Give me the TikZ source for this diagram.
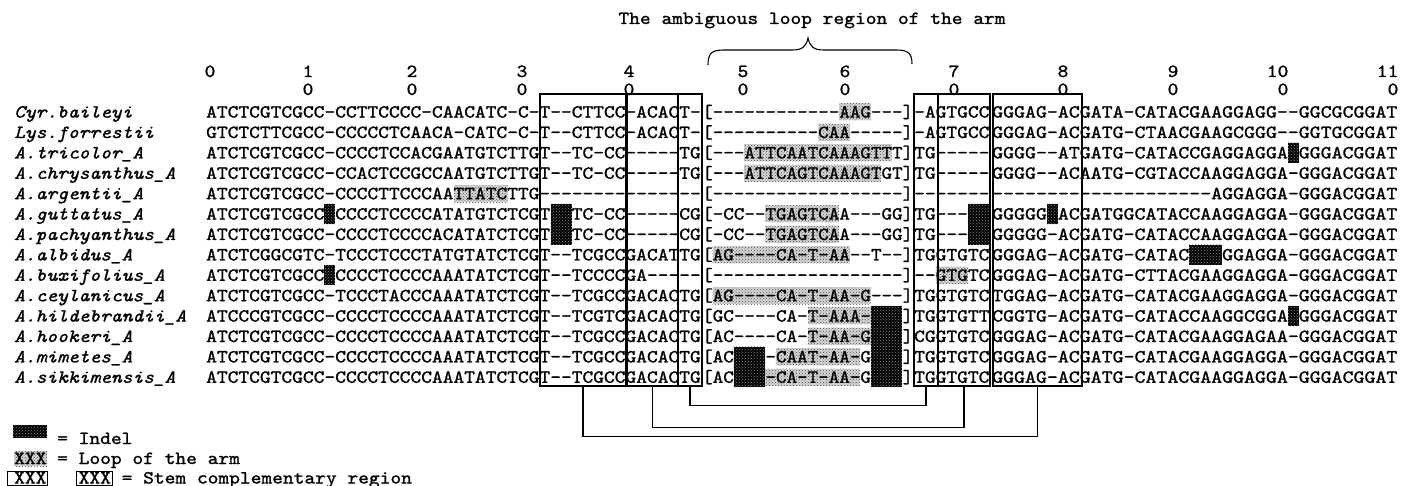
\documentclass[tikz,border=0pt]{standalone}
\usepackage{fontspec}
\usepackage{graphicx}
\usetikzlibrary{patterns}
\newfontfamily\sqf{lmmono10-regular.otf}[FakeStretch=1.107, FakeBold=1.2, ItalicFont=lmmono10-italic.otf]
\tikzset{
  sq/.style={anchor=base west, inner sep=0pt, font=\sqf\fontsize{18.5}{18.5}\selectfont},
  nm/.style={sq, font=\sqf\itshape\fontsize{18.5}{18.5}\selectfont},
  lab/.style={anchor=base, inner sep=0pt, font=\sqf\fontsize{18.5}{18.5}\selectfont},
  stembox/.style={draw, line width=1.1pt, inner sep=0pt, minimum height=292pt},
  conn/.style={line width=1.1pt},
  indelfill/.style={fill=black, postaction={pattern=crosshatch dots, pattern color=black!45}},
  stipfill/.style={fill=black!16, postaction={pattern=crosshatch dots, pattern color=black!70}},
}
\def\xA{206}\def\wA{10.77}
\def\xL{702}\def\wL{10.55}
\def\xB{914}\def\wB{10.75}
\def\xC{992}\def\wC{10.95}
\newcommand\mkrow[6]{%
  \pgfmathsetmacro\yb{117.6+20.4*(#1-1)}%
  \node[nm] (n#1) at (14,\yb) {#2};
  \node[sq] (ga#1) at (\xA,\yb) {#3};
  \node[sq] (gl#1) at (\xL,\yb) {\scalebox{0.9812}[1]{#4}};
  \node[sq] (gb#1) at (\xB,\yb) {#5};
  \node[sq] (gc#1) at (\xC,\yb) {\scalebox{1.0185}[1]{#6}};
}
\newcommand\mkindel[5]{%
  \pgfmathsetmacro\ya{112+20.4*(#3-1)-10.2}%
  \pgfmathsetmacro\yc{112+20.4*(#3-1)+10.2}%
  \fill[indelfill] ({#1+#4*#2},\ya) rectangle ({#1+(#4+#5)*#2},\yc);}
\newcommand\mkstip[5]{%
  \pgfmathsetmacro\ya{112+20.4*(#3-1)-8.5}%
  \pgfmathsetmacro\yc{112+20.4*(#3-1)+8.5}%
  \fill[stipfill] ({#1+#4*#2},\ya) rectangle ({#1+(#4+#5)*#2},\yc);}
\begin{document}
\begin{tikzpicture}[x=1pt,y=-1pt]
\fill[white] (0,0) rectangle (1403,486);
\useasboundingbox (0,0) rectangle (1403,486);
% title and brace
\node[lab] (title) at (812,24) {The ambiguous loop region of the arm};
\draw[line width=1.1pt] (708,65) .. controls (708,53) and (712,50) .. (724,50) -- (792,50)
  .. controls (802,50) and (806,47) .. (808,38) .. controls (810,47) and (814,50) .. (824,50)
  -- (896,50) .. controls (908,50) and (912,53) .. (912,64);
% column numbers
\node[lab] (c0) at (210,77) {0};
\foreach \x/\t [count=\k] in {308/1,412/2,522/3,629/4,743/5,845/6,954/7,1063/8,1173/9}{
  \node[lab] (t\k) at (\x,77) {\t};
  \node[lab] (u\k) at (\x,95) {0};
}
\node[lab] (t10) at (1277.6,77) {10};
\node[lab] (u10) at (1283,95) {0};
\node[lab] (t11) at (1387.6,77) {11};
\node[lab] (u11) at (1393,95) {0};
% loop-of-arm stipples
\mkstip{\xL}{\wL}{1}{13}{3}
\mkstip{\xL}{\wL}{2}{11}{3}
\mkstip{\xL}{\wL}{3}{4}{14}
\mkstip{\xL}{\wL}{4}{4}{13}
\mkstip{\xA}{\wA}{5}{23}{5}
\mkstip{\xL}{\wL}{6}{6}{7}
\mkstip{\xL}{\wL}{7}{6}{7}
\mkstip{\xL}{\wL}{8}{1}{13}
\mkstip{\xB}{\wB}{9}{2}{3}
\mkstip{\xL}{\wL}{10}{1}{15}
\mkstip{\xL}{\wL}{11}{10}{6}
\mkstip{\xL}{\wL}{12}{10}{6}
\mkstip{\xL}{\wL}{13}{7}{8}
\mkstip{\xL}{\wL}{14}{6}{9}
% sequences
\mkrow{1}{Cyr.baileyi}{ATCTCGTCGCC-CCTTCCCC-CAACATC-C-T--CTTCC-ACACT-}{[------------AAG---]}{-AGTGCC}{GGGAG-ACGATA-CATACGAAGGAGG--GGCGCGGAT}
\mkrow{2}{Lys.forrestii}{GTCTCTTCGCC-CCCCCTCAACA-CATC-C-T--CTTCC-ACACT-}{[----------CAA-----]}{-AGTGCC}{GGGAG-ACGATG-CTAACGAAGCGGG--GGTGCGGAT}
\mkrow{3}{A.tricolor\_A}{ATCTCGTCGCC-CCCCTCCACGAATGTCTTGT--TC-CC-----TG}{[---ATTCAATCAAAGTTT]}{TG-----}{GGGG--ATGATG-CATACCGAGGAGGA-GGGACGGAT}
\mkrow{4}{A.chrysanthus\_A}{ATCTCGTCGCC-CCACTCCGCCAATGTCTTGT--TC-CC-----TG}{[---ATTCAGTCAAAGTGT]}{TG-----}{GGGG--ACAATG-CGTACCAAGGAGGA-GGGACGGAT}
\mkrow{5}{A.argentii\_A}{ATCTCGTCGCC-CCCCTTCCCAATTATCTTG---------------}{[------------------]}{-------}{--------------------AGGAGGA-GGGACGGAT}
\mkrow{6}{A.guttatus\_A}{ATCTCGTCGCC-CCCCTCCCCATATGTCTCGT--TC-CC-----CG}{[-CC--TGAGTCAA---GG]}{TG-----}{GGGGG-ACGATGGCATACCAAGGAGGA-GGGACGGAT}
\mkrow{7}{A.pachyanthus\_A}{ATCTCGTCGCC-CCCCTCCCCACATATCTCGT--TC-CC-----CG}{[-CC--TGAGTCAA---GG]}{TG-----}{GGGGG-ACGATG-CATACCAAGGAGGA-GGGACGGAT}
\mkrow{8}{A.albidus\_A}{ATCTCGGCGTC-TCCCTCCCTATGTATCTCGT--TCGCCGACATTG}{[AG----CA-T-AA--T--]}{TGGTGTC}{GGGAG-ACGATG-CATAC---GGAGGA-GGGACGGAT}
\mkrow{9}{A.buxifolius\_A}{ATCTCGTCGCC-CCCCTCCCCAAATATCTCGT--TCCCCGA-----}{[------------------]}{--GTGTC}{GGGAG-ACGATG-CTTACGAAGGAGGA-GGGACGGAT}
\mkrow{10}{A.ceylanicus\_A}{ATCTCGTCGCC-TCCCTACCCAAATATCTCGT--TCGCCGACACTG}{[AG----CA-T-AA-G---]}{TGGTGTC}{TGGAG-ACGATG-CATACGAAGGAGGA-GGGACGGAT}
\mkrow{11}{A.hildebrandii\_A}{ATCCCGTCGCC-CCCCTCCCCAAATATCTCGT--TCGTCGACACTG}{[GC----CA-T-AAA----]}{TGGTGTT}{CGGTG-ACGATG-CATACCAAGGCGGA-GGGACGGAT}
\mkrow{12}{A.hookeri\_A}{ATCTCGTCGCC-CCCCTCCCCAAATATCTCGT--TCGCCGACACTG}{[AC----CA-T-AA-G---]}{CGGTGTC}{GGGAG-ACGATG-CATACGAAGGAGAA-GGGACGGAT}
\mkrow{13}{A.mimetes\_A}{ATCTCGTCGCC-CCCCTCCCCAAATATCTCGT--TCGCCGACACTG}{[AC----CAAT-AA-G---]}{TGGTGTC}{GGGAG-ACGATG-CATACGAAGGAGGA-GGGACGGAT}
\mkrow{14}{A.sikkimensis\_A}{ATCTCGTCGCC-CCCCTCCCCAAATATCTCGT--TCGCCGACACTG}{[AC----CA-T-AA-G---]}{TGGTGTC}{GGGAG-ACGATG-CATACGAAGGAGGA-GGGACGGAT}
% indels
\mkindel{\xA}{\wA}{6}{11}{1}
\mkindel{\xA}{\wA}{9}{11}{1}
\mkindel{\xA}{\wA}{6}{32}{2}
\mkindel{\xA}{\wA}{7}{32}{2}
\mkindel{\xB}{\wB}{6}{5}{2}
\mkindel{\xB}{\wB}{7}{5}{2}
\mkindel{\xC}{\wC}{6}{5}{1}
\mkindel{\xC}{\wC}{3}{27}{1}
\mkindel{\xC}{\wC}{8}{18}{3}
\mkindel{\xC}{\wC}{11}{27}{1}
\mkindel{\xL}{\wL}{11}{16}{3}
\mkindel{\xL}{\wL}{12}{16}{3}
\mkindel{\xL}{\wL}{13}{16}{3}
\mkindel{\xL}{\wL}{14}{16}{3}
\mkindel{\xL}{\wL}{13}{3}{3}
\mkindel{\xL}{\wL}{14}{3}{3}
% stem boxes
\node[stembox, minimum width=86pt] (b1) at (583,240) {};
\node[stembox, minimum width=51pt] (b2) at (652.5,240) {};
\node[stembox, minimum width=24pt] (b3) at (690,240) {};
\node[stembox, minimum width=24pt] (b4) at (926,240) {};
\node[stembox, minimum width=52pt] (b5) at (964,240) {};
\node[stembox, minimum width=89pt] (b6) at (1037.5,240) {};
% stem connectors
\draw[conn] (b3.south) -- ++(0,19) -| (b4.south);
\draw[conn] (b2.south) -- ++(0,41) -| (b5.south);
\draw[conn] (b1.south) -- ++(0,50) -| (b6.south);
% legend
\fill[indelfill] (13,425) rectangle (47,438);
\node[sq] (li) at (57,444) {= Indel};
\fill[stipfill] (14,451) rectangle (47,466);
\node[sq] (lx) at (14,464) {XXX};
\node[sq] (ll) at (57,464) {= Loop of the arm};
\node[sq] (ls1) at (14,483.5) {XXX};
\draw[line width=1pt] (7,471) rectangle (47,485.3);
\node[sq] (ls2) at (78.5,483.5) {XXX};
\draw[line width=1pt] (76,471) rectangle (112,485.3);
\node[sq] (ls) at (121.5,483.5) {= Stem complementary region};
\end{tikzpicture}
\end{document}
